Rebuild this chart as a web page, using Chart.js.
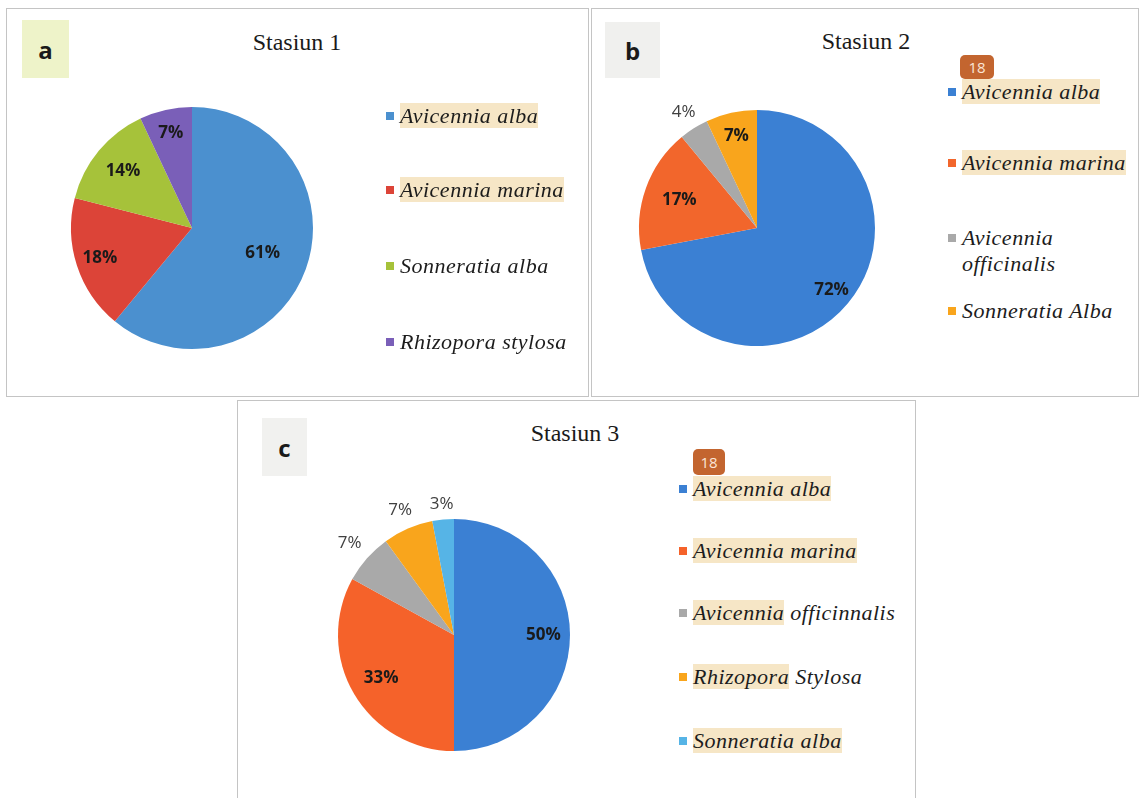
<!DOCTYPE html>
<html>
<head>
<meta charset="utf-8">
<script src="https://cdn.jsdelivr.net/npm/chart.js@4/dist/chart.umd.min.js"></script>
<style>
  html, body { margin:0; padding:0; background:#ffffff; }
  body { width:1141px; height:798px; position:relative; overflow:hidden; }
  .panel { position:absolute; border:1px solid #c4c4c4; background:#fff; box-sizing:border-box; }
  .tag { position:absolute; font-family:"Open Sans", sans-serif; font-weight:700; font-size:24px; color:#1a1a1a; display:flex; align-items:center; justify-content:center; }
  .title { position:absolute; font-family:"Times New Roman", "Liberation Serif", Tinos, Times, serif; font-size:24px; color:#1a1a1a; white-space:nowrap; transform:translateX(-50%); }
  .badge { position:absolute; background:#c3652f; color:#fbe6d6; font-family:"Open Sans", sans-serif; font-size:15px; border-radius:5px; display:flex; align-items:center; justify-content:center; }
  .leg { position:absolute; font-family:"Times New Roman", "Liberation Serif", Tinos, Times, serif; font-style:italic; font-size:22px; letter-spacing:0.5px; color:#1c1c1c; line-height:26px; }
  .leg .sq { position:absolute; width:8px; height:8px; top:9px; }
  .leg .hl { background:#f6e6c6; }
  canvas { position:absolute; }
</style>
</head>
<body>
<script>
// ---------- data ----------
const titles = ["Stasiun 1", "Stasiun 2", "Stasiun 3"];
const panelLetters = ["a", "b", "c"];

const speciesA = ["Avicennia alba", "Avicennia marina", "Sonneratia alba", "Rhizopora stylosa"];
const valuesA = [61, 18, 14, 7];

const speciesB = ["Avicennia alba", "Avicennia marina", "Avicennia officinalis", "Sonneratia Alba"];
const valuesB = [72, 17, 4, 7];

const speciesC = ["Avicennia alba", "Avicennia marina", "Avicennia officinnalis", "Rhizopora Stylosa", "Sonneratia alba"];
const valuesC = [50, 33, 7, 7, 3];

const badgeText = "18";

// ---------- styles ----------
const colorsA = ["#4b90cf", "#dc4438", "#a6c23a", "#7a5fb8"];
const colorsB = ["#3b80d3", "#f2662c", "#a9a9a9", "#f9a51c"];
const colorsC = ["#3b80d3", "#f5622a", "#a9a9a9", "#f9a51c", "#56b4e6"];

// highlighted word counts per legend entry (number of leading words with tan background)
const hlA = [2, 2, 0, 0];
const hlB = [2, 2, 0, 0];
const hlC = [2, 2, 1, 1, 2];

// label radial factor (fraction of radius); > 1 means outside the pie
const lblA = [0.62, 0.8, 0.74, 0.8];
const lblB = [0.82, 0.7, 1.16, 0.8];
const lblC = [0.77, 0.73, 1.2, 1.17, 1.13];

function el(tag, cls, css, html) {
  const e = document.createElement(tag);
  if (cls) e.className = cls;
  Object.assign(e.style, css || {});
  if (html !== undefined) e.innerHTML = html;
  document.body.appendChild(e);
  return e;
}

const pctLabelPlugin = {
  id: 'pctLabels',
  afterDatasetsDraw(chart, args, opts) {
    const ctx = chart.ctx;
    const meta = chart.getDatasetMeta(0);
    const data = chart.data.datasets[0].data;
    const total = data.reduce((s, v) => s + v, 0);
    meta.data.forEach((arc, i) => {
      const p = arc.getProps(['x', 'y', 'startAngle', 'endAngle', 'outerRadius'], true);
      const mid = (p.startAngle + p.endAngle) / 2;
      const f = opts.factors[i];
      const x = p.x + Math.cos(mid) * p.outerRadius * f;
      const y = p.y + Math.sin(mid) * p.outerRadius * f;
      const outside = f > 1;
      ctx.save();
      ctx.font = (outside ? '400 ' : '700 ') + '17px "Open Sans", sans-serif';
      ctx.fillStyle = outside ? '#404040' : '#1a1a1a';
      ctx.textAlign = 'center';
      ctx.textBaseline = 'middle';
      ctx.fillText(Math.round(data[i] / total * 100) + '%', x, y);
      ctx.restore();
    });
  }
};

function makePie(cx, cy, r, pad, labels, values, colors, factors) {
  const size = 2 * (r + pad);
  const c = document.createElement('canvas');
  c.width = size; c.height = size;
  c.style.left = (cx - size / 2) + 'px';
  c.style.top = (cy - size / 2) + 'px';
  c.style.width = size + 'px';
  c.style.height = size + 'px';
  document.body.appendChild(c);
  new Chart(c, {
    type: 'pie',
    data: { labels: labels, datasets: [{ data: values, backgroundColor: colors, borderWidth: 0 }] },
    options: {
      responsive: false,
      animation: false,
      layout: { padding: pad },
      plugins: { legend: { display: false }, tooltip: { enabled: false }, pctLabels: { factors: factors } }
    },
    plugins: [pctLabelPlugin]
  });
}

function makeLegend(left, tops, labels, colors, hl, width) {
  labels.forEach((lab, i) => {
    const words = lab.split(' ');
    const n = hl[i];
    let html = '';
    if (n > 0) html += '<span class="hl">' + words.slice(0, n).join(' ') + '</span>';
    if (n < words.length) html += (n > 0 ? ' ' : '') + words.slice(n).join(' ');
    const d = el('div', 'leg', { left: left + 'px', top: (tops[i] - 13) + 'px', width: width + 'px', paddingLeft: '14px' }, html);
    const sq = document.createElement('div');
    sq.className = 'sq';
    sq.style.left = '0px';
    sq.style.background = colors[i];
    d.appendChild(sq);
  });
}

// ---------- panels ----------
el('div', 'panel', { left: '6px', top: '8px', width: '583px', height: '389px' });
el('div', 'panel', { left: '591px', top: '8px', width: '548px', height: '389px' });
el('div', 'panel', { left: '237px', top: '400px', width: '679px', height: '400px' });

el('div', 'tag', { left: '22px', top: '20px', width: '47px', height: '58px', background: '#eef3c9' }, panelLetters[0]);
el('div', 'tag', { left: '605px', top: '22px', width: '55px', height: '56px', background: '#f0f0ee' }, panelLetters[1]);
el('div', 'tag', { left: '262px', top: '418px', width: '45px', height: '58px', background: '#f1f1ef' }, panelLetters[2]);

el('div', 'title', { left: '297px', top: '29px' }, titles[0]);
el('div', 'title', { left: '866px', top: '28px' }, titles[1]);
el('div', 'title', { left: '575px', top: '420px' }, titles[2]);

el('div', 'badge', { left: '960px', top: '55px', width: '34px', height: '24px' }, badgeText);
el('div', 'badge', { left: '693px', top: '449px', width: '32px', height: '26px' }, badgeText);

// ---------- pies ----------
makePie(192, 228, 121, 50, speciesA, valuesA, colorsA, lblA);
makePie(757, 228, 118, 50, speciesB, valuesB, colorsB, lblB);
makePie(454, 635, 116, 55, speciesC, valuesC, colorsC, lblC);

// ---------- legends ----------
makeLegend(386, [116, 190, 266, 342], speciesA, colorsA, hlA, 200);
makeLegend(948, [92, 163, 238, 311], speciesB, colorsB, hlB, 178);
makeLegend(679, [489, 551, 613, 677, 741], speciesC, colorsC, hlC, 235);
</script>
</body>
</html>
